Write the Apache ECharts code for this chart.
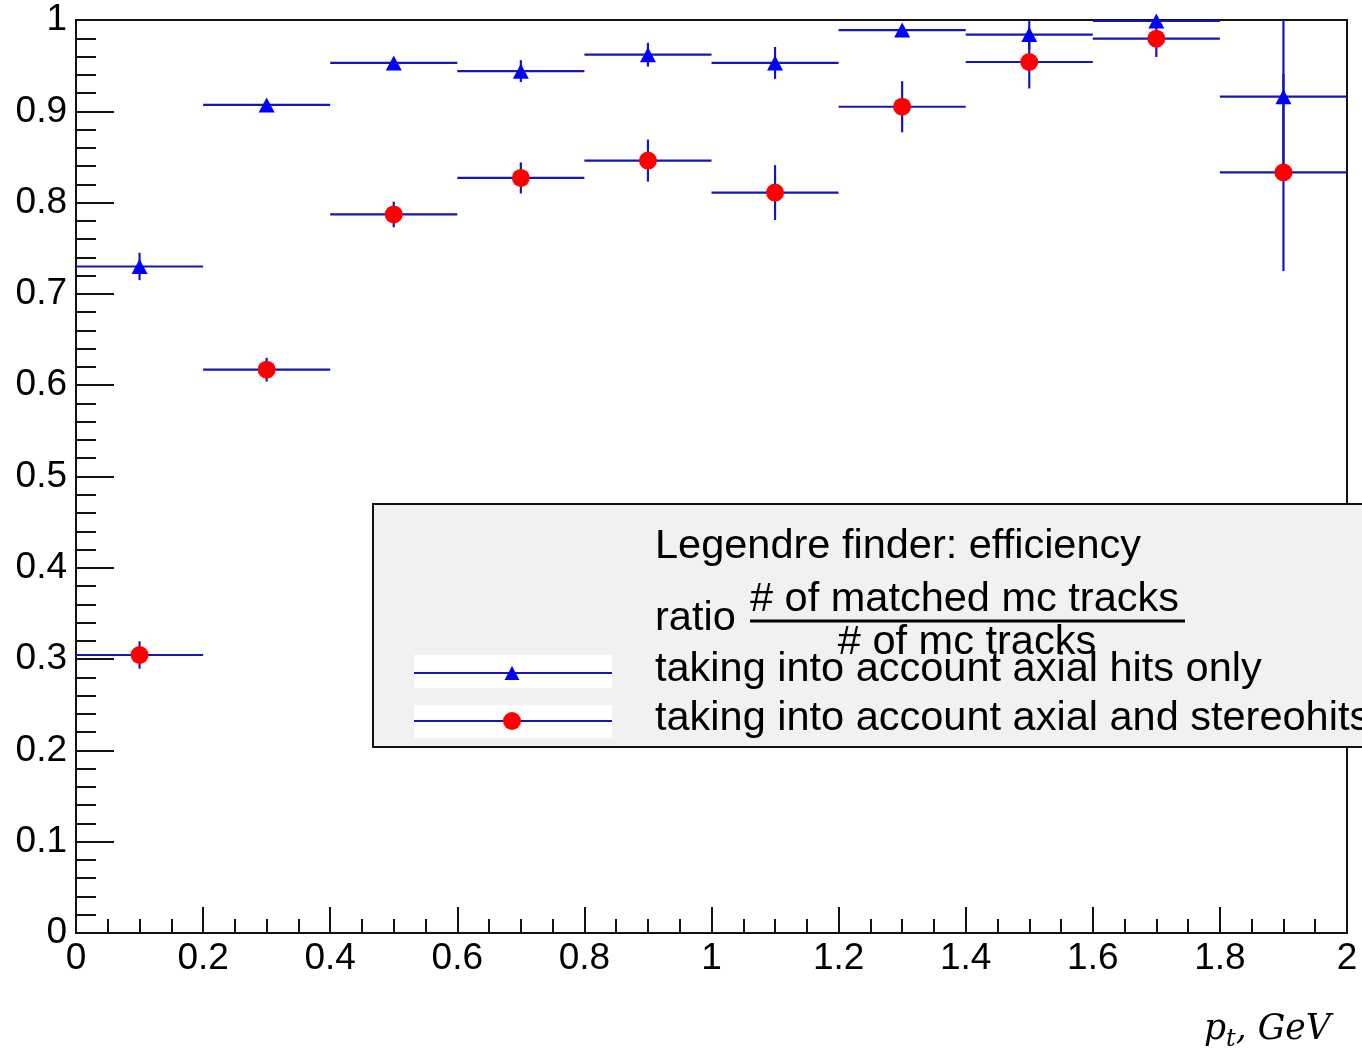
<!DOCTYPE html>
<html>
<head>
<meta charset="utf-8">
<script src="https://cdn.jsdelivr.net/npm/echarts@6/dist/echarts.min.js"></script>
<style>
html,body{margin:0;padding:0;background:#fff;}
#chart{width:1362px;height:1051px;}
</style>
</head>
<body>
<div id="chart"></div>
<script>
// ---- data ----
const binCenters = [0.1, 0.3, 0.5, 0.7, 0.9, 1.1, 1.3, 1.5, 1.7, 1.9];
const binWidth = 0.2;
const axialOnly = [0.730, 0.907, 0.953, 0.944, 0.962, 0.953, 0.989, 0.984, 0.999, 0.916];
const axialOnlyErr = [0.015, 0.005, 0.005, 0.012, 0.013, 0.0175, 0.005, 0.016, 0.003, 0.090];
const axialStereo = [0.3045, 0.617, 0.787, 0.827, 0.846, 0.811, 0.905, 0.954, 0.9795, 0.833];
const axialStereoErr = [0.015, 0.013, 0.014, 0.017, 0.023, 0.030, 0.028, 0.029, 0.020, 0.108];
const xTickLabels = ['0', '0.2', '0.4', '0.6', '0.8', '1', '1.2', '1.4', '1.6', '1.8', '2'];
const yTickLabels = ['0', '0.1', '0.2', '0.3', '0.4', '0.5', '0.6', '0.7', '0.8', '0.9', '1'];
const legendTitle = 'Legendre finder: efficiency';
const ratioLabel = 'ratio';
const ratioNumerator = '# of matched mc tracks';
const ratioDenominator = '# of mc tracks';
const seriesNames = ['taking into account axial hits only', 'taking into account axial and stereohits'];
const xTitle = ['p', 't', ', GeV'];

// ---- build ----
const lineColor = '#1616b8';
function toRows(vals, errs) {
  return binCenters.map((c, i) => [c, vals[i], errs[i], binWidth / 2]);
}
const blueRows = toRows(axialOnly, axialOnlyErr);
const redRows = toRows(axialStereo, axialStereoErr);

function errRender(params, api) {
  const x = api.value(0), y = api.value(1), e = api.value(2), hw = api.value(3);
  const l = api.coord([x - hw, y]);
  const r = api.coord([x + hw, y]);
  const t = api.coord([x, y + e]);
  const b = api.coord([x, y - e]);
  const st = {stroke: lineColor, lineWidth: 2.2};
  return {
    type: 'group',
    children: [
      {type: 'line', shape: {x1: l[0], y1: l[1], x2: r[0], y2: r[1]}, style: st},
      {type: 'line', shape: {x1: t[0], y1: t[1], x2: b[0], y2: b[1]}, style: st}
    ]
  };
}

const font = 'Liberation Sans';
const legFs = 41.5;
const chart = echarts.init(document.getElementById('chart'), null, {renderer: 'canvas'});

const legX = 373, legY = 504;
function legText(text, x, y, align) {
  return {type: 'text', z: 103, style: {text: text, x: x, y: y, fontSize: legFs, fontFamily: font, fill: '#000',
    align: align || 'left', verticalAlign: 'middle'}};
}
const graphics = [
  {type: 'rect', z: 100, shape: {x: legX, y: legY, width: 1010, height: 243},
   style: {fill: '#f1f1f1', stroke: '#111', lineWidth: 2}},
  {type: 'rect', z: 101, shape: {x: 414, y: 655, width: 198, height: 33}, style: {fill: '#fff'}},
  {type: 'rect', z: 101, shape: {x: 414, y: 705, width: 198, height: 33}, style: {fill: '#fff'}},
  {type: 'line', z: 102, shape: {x1: 414, y1: 673, x2: 612, y2: 673}, style: {stroke: lineColor, lineWidth: 2.2}},
  {type: 'line', z: 102, shape: {x1: 414, y1: 721, x2: 612, y2: 721}, style: {stroke: lineColor, lineWidth: 2.2}},
  {type: 'polygon', z: 103, shape: {points: [[512, 666], [519.5, 680], [504.5, 680]]}, style: {fill: '#0000ff'}},
  {type: 'circle', z: 103, shape: {cx: 512, cy: 721, r: 9}, style: {fill: '#ff0000'}},
  legText(legendTitle, 655, 547),
  legText(ratioLabel, 655, 619),
  legText(ratioNumerator, 750, 600),
  {type: 'line', z: 103, shape: {x1: 750, y1: 621, x2: 1185, y2: 621}, style: {stroke: '#000', lineWidth: 3}},
  legText(ratioDenominator, 967, 643, 'center'),
  legText(seriesNames[0], 655, 670),
  legText(seriesNames[1], 655, 719),
  {type: 'text', z: 103, style: {
    x: 1204, y: 1030, verticalAlign: 'middle',
    text: '{p|' + xTitle[0] + '}{s|' + xTitle[1] + '}{p|' + xTitle[2] + '}',
    rich: {
      p: {fontFamily: 'DejaVu Serif', fontStyle: 'italic', fontSize: 34.5, fill: '#000', color: '#000'},
      s: {fontFamily: 'DejaVu Serif', fontStyle: 'italic', fontSize: 24, fill: '#000', color: '#000', padding: [20, 0, 0, 0]}
    }
  }}
];

const option = {
  animation: false,
  backgroundColor: '#fff',
  grid: {left: 76, right: 15, top: 20, bottom: 118, show: true, borderColor: '#111', borderWidth: 2, backgroundColor: 'transparent'},
  xAxis: {
    type: 'value', min: 0, max: 2, interval: 0.2,
    axisLine: {show: true, onZero: false, lineStyle: {color: '#111', width: 2}},
    axisTick: {show: true, inside: true, length: 26, lineStyle: {color: '#111', width: 2}},
    minorTick: {show: true, splitNumber: 4, length: 14, lineStyle: {color: '#111', width: 2}},
    splitLine: {show: false},
    axisLabel: {fontSize: 37, fontFamily: font, color: '#000', margin: 7,
      formatter: (v) => xTickLabels[Math.round(v / 0.2)]}
  },
  yAxis: {
    type: 'value', min: 0, max: 1, interval: 0.1,
    axisLine: {show: true, onZero: false, lineStyle: {color: '#111', width: 2}},
    axisTick: {show: true, inside: true, length: 38, lineStyle: {color: '#111', width: 2}},
    minorTick: {show: true, splitNumber: 5, length: 20, lineStyle: {color: '#111', width: 2}},
    splitLine: {show: false},
    axisLabel: {fontSize: 37, fontFamily: font, color: '#000', margin: 9,
      formatter: (v) => yTickLabels[Math.round(v / 0.1)]}
  },
  graphic: graphics,
  series: [
    {name: seriesNames[0] + ' err', type: 'custom', renderItem: errRender, data: blueRows, clip: true, z: 2,
     encode: {x: 0, y: 1}},
    {name: seriesNames[1] + ' err', type: 'custom', renderItem: errRender, data: redRows, clip: true, z: 2,
     encode: {x: 0, y: 1}},
    {name: seriesNames[0], type: 'scatter', symbol: 'triangle', symbolSize: [16, 15],
     itemStyle: {color: '#0000ff', opacity: 1}, data: blueRows.map(r => [r[0], r[1]]), z: 3},
    {name: seriesNames[1], type: 'scatter', symbol: 'circle', symbolSize: 18,
     itemStyle: {color: '#ff0000', opacity: 1}, data: redRows.map(r => [r[0], r[1]]), z: 4}
  ]
};
chart.setOption(option);
</script>
</body>
</html>
